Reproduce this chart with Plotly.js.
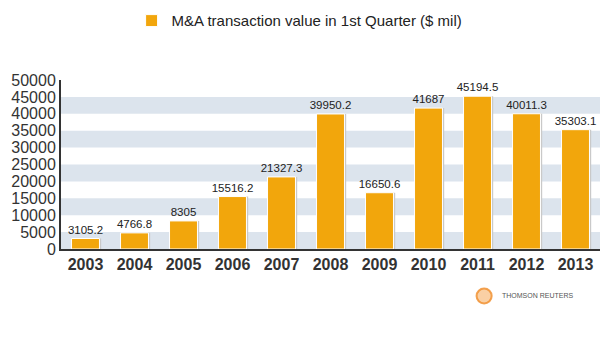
<!DOCTYPE html>
<html>
<head>
<meta charset="utf-8">
<script src="https://cdn.plot.ly/plotly-3.0.1.min.js"></script>
<style>html,body{margin:0;padding:0;background:#fff;}#chart{width:600px;height:340px;}</style>
</head>
<body>
<div id="chart"></div>
<script>
const years = ['2003','2004','2005','2006','2007','2008','2009','2010','2011','2012','2013'];
const values = [3105.2, 4766.8, 8305, 15516.2, 21327.3, 39950.2, 16650.6, 41687, 45194.5, 40011.3, 35303.1];
const seriesName = 'M&A transaction value in 1st Quarter ($ mil)';
const yTicks = [0,5000,10000,15000,20000,25000,30000,35000,40000,45000,50000];

const barColor = '#F2A60C';
const FONT = 'Liberation Sans, Arial, sans-serif';

const shadow = {
  type: 'bar', x: years, y: values, width: 0.57, offset: -0.25,
  marker: {color: '#c9c9c9'}, showlegend: false, hoverinfo: 'skip'
};
const main = {
  type: 'bar', x: years, y: values, name: seriesName, width: 0.57, offset: -0.285,
  marker: {color: barColor, line: {color: '#ffffff', width: 1}},
  text: values.map(v => String(v)), textposition: 'outside', cliponaxis: false,
  constraintext: 'none',
  textfont: {family: FONT, size: 11.5, color: '#222'}
};

const shapes = [];
[0,2,4,6,8].forEach(i => {
  shapes.push({type:'rect', xref:'paper', yref:'y', x0:0, x1:1, y0:yTicks[i], y1:yTicks[i+1],
    fillcolor:'#DCE4ED', line:{width:0}, layer:'below'});
});
shapes.push({type:'circle', xref:'paper', yref:'paper', x0:0.771, x1:0.799, y0:-0.322, y1:-0.234,
  fillcolor:'rgba(245,170,90,0.55)', line:{color:'rgba(240,140,40,0.8)', width:2}});

const layout = {
  width: 600, height: 340,
  margin: {l: 61, r: 0, t: 80, b: 91},
  paper_bgcolor: '#fff', plot_bgcolor: '#fff',
  barmode: 'overlay',
  font: {family: FONT, color: '#333'},
  showlegend: true,
  legend: {orientation: 'h', x: 0.131, xanchor: 'left', y: 1.35, yanchor: 'middle',
    font: {family: FONT, size: 15, color: '#222'}, bgcolor: 'rgba(0,0,0,0)'},
  xaxis: {type: 'category', range: [-0.5, 10.5], showline: true, linecolor: '#333', linewidth: 2,
    ticks: '', showgrid: false, zeroline: false,
    tickfont: {family: FONT, size: 16, color: '#333', weight: 'bold'}},
  yaxis: {range: [0, 50000], tickvals: yTicks, ticktext: yTicks.map(String), showline: true,
    linecolor: '#333', linewidth: 2, ticks: '', showgrid: false, zeroline: false,
    tickfont: {family: FONT, size: 16, color: '#333'}},
  shapes: shapes,
  annotations: [{xref:'paper', yref:'paper', x:0.815, y:-0.278, xanchor:'left', yanchor:'middle',
    text:'THOMSON REUTERS', showarrow:false, font:{family: FONT, size: 7, color:'#555'}}]
};

Plotly.newPlot('chart', [shadow, main], layout, {displayModeBar: false, staticPlot: true});
</script>
</body>
</html>
